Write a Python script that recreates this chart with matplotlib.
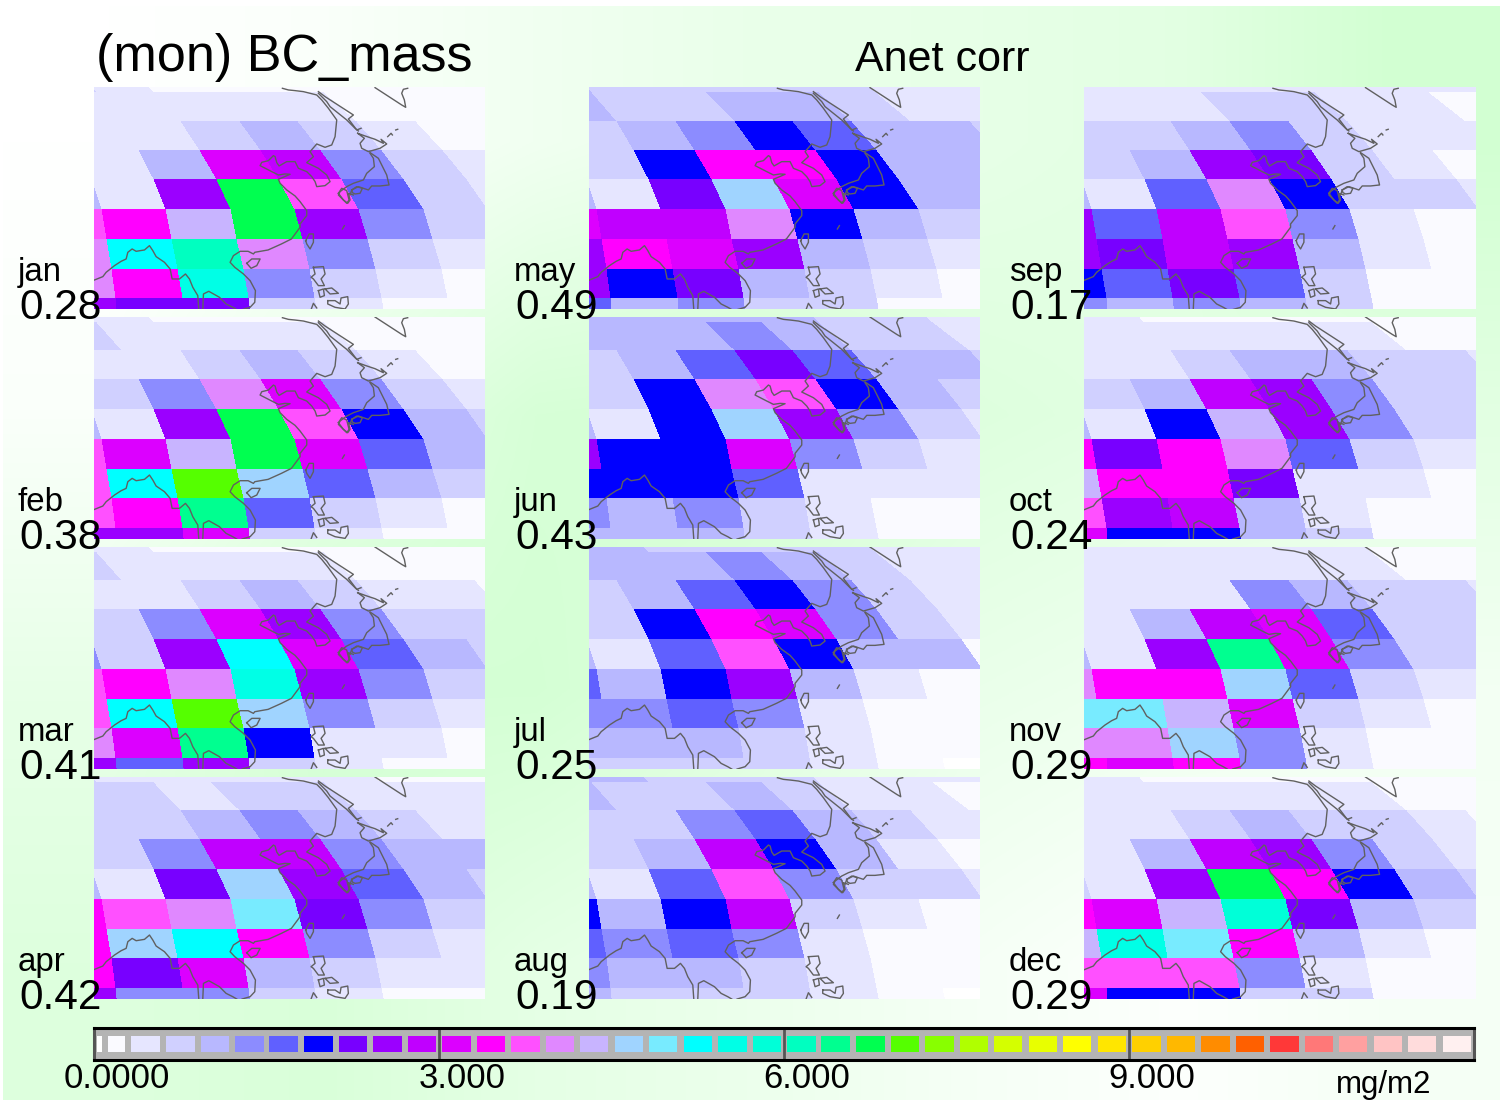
import numpy as np
import matplotlib
matplotlib.use("Agg")
import matplotlib.pyplot as plt
from matplotlib.colors import ListedColormap, BoundaryNorm

W, H = 1501, 1100
plt.rcParams['font.family'] = ['Liberation Sans', 'DejaVu Sans']

MONTHS = ["jan", "feb", "mar", "apr", "may", "jun", "jul", "aug", "sep", "oct", "nov", "dec"]
CORR = ["0.28", "0.38", "0.41", "0.42", "0.49", "0.43", "0.25", "0.19", "0.17", "0.24", "0.29", "0.29"]

# colour bar
BAR_COLORS = ["#FFFFFF", "#FAFAFF", "#E6E6FF", "#D0D0FF", "#B8B8FF", "#8C8CFF", "#6060FF", "#0000FF",
              "#7800FF", "#9B00FF", "#C000FF", "#DC00FF", "#FF00FF", "#FF50FF", "#E088FF", "#C8B4FF",
              "#A0D4FF", "#78EBFF", "#00FFFF", "#00FFE6", "#00FFD8", "#00FFC0", "#00FF90", "#00FF50",
              "#55FF00", "#88FF00", "#B0FF00", "#D4FF00", "#E8FF00", "#FFFF00", "#FFE600", "#FFD000",
              "#FFB800", "#FF8C00", "#FF6000", "#FF3838", "#FF7878", "#FFA0A0", "#FFC4C4", "#FFDCDC",
              "#FFF0F0"]
BAR_LEVELS = [0.0, 0.1] + [round(0.3 * i, 1) for i in range(1, 41)]
BAR_TICKS = [0, 3, 6, 9]
BAR_LABELS = ["0.0000", "3.000", "6.000", "9.000"]

# BC mass colour level of every model cell, rows north to south, columns west to east
jan = [[2, 2, 1, 0, 0, 0, 0, 0, 0], [1, 1, 1, 1, 1, 1, 0, 0, 0], [1, 1, 1, 2, 3, 2, 1, 0, 0],
       [1, 1, 3, 10, 9, 4, 2, 1, 1], [3, 1, 8, 22, 12, 5, 2, 1, 1], [12, 11, 14, 22, 8, 4, 2, 1, 1],
       [13, 17, 20, 13, 4, 2, 1, 1, 1], [13, 11, 18, 4, 2, 1, 0, 0, 0], [8, 7, 7, 2, 1, 0, 0, 0, 0]]
feb = [[1, 1, 1, 0, 0, 0, 0, 0, 0], [2, 2, 1, 1, 1, 1, 0, 0, 0], [1, 1, 1, 2, 3, 2, 1, 0, 0],
       [2, 2, 4, 13, 10, 4, 2, 1, 1], [3, 1, 8, 22, 12, 6, 3, 2, 2], [12, 10, 14, 22, 10, 5, 3, 2, 2],
       [12, 17, 23, 15, 5, 3, 2, 1, 1], [12, 11, 21, 5, 2, 1, 0, 0, 0], [8, 8, 10, 2, 1, 0, 0, 0, 0]]
mar = [[1, 1, 1, 0, 0, 0, 0, 0, 0], [2, 2, 1, 1, 1, 1, 0, 0, 0], [1, 1, 1, 2, 3, 2, 1, 1, 0],
       [2, 2, 4, 10, 8, 4, 2, 2, 2], [4, 2, 8, 17, 10, 5, 3, 2, 2], [12, 11, 13, 18, 8, 4, 2, 1, 1],
       [12, 17, 23, 15, 4, 2, 1, 1, 1], [13, 10, 21, 6, 1, 1, 0, 0, 0], [8, 5, 8, 2, 1, 0, 0, 0, 0]]
apr = [[2, 2, 1, 1, 1, 1, 1, 0, 0], [2, 2, 2, 1, 2, 2, 1, 1, 1], [2, 2, 2, 3, 4, 3, 2, 1, 1],
       [2, 2, 4, 9, 9, 4, 3, 3, 3], [3, 1, 7, 15, 8, 5, 3, 2, 2], [11, 12, 13, 16, 7, 4, 2, 1, 1],
       [11, 15, 17, 11, 4, 2, 1, 1, 1], [11, 7, 10, 3, 2, 1, 1, 0, 0], [8, 4, 4, 2, 1, 0, 0, 0, 0]]
may = [[3, 3, 2, 2, 2, 2, 2, 1, 1], [3, 3, 2, 2, 3, 3, 2, 1, 1], [2, 2, 3, 4, 6, 5, 3, 3, 2],
       [2, 2, 6, 11, 11, 6, 3, 3, 3], [3, 1, 7, 15, 10, 6, 3, 3, 3], [10, 9, 9, 13, 6, 3, 2, 2, 2],
       [8, 11, 10, 8, 3, 2, 1, 1, 1], [8, 6, 7, 3, 2, 1, 0, 0, 0], [5, 3, 4, 2, 2, 0, 0, 0, 0]]
jun = [[3, 3, 3, 3, 3, 3, 2, 2, 1], [3, 3, 3, 3, 4, 3, 2, 2, 1], [2, 2, 3, 5, 7, 5, 3, 3, 2],
       [2, 2, 6, 13, 12, 6, 3, 2, 2], [3, 1, 6, 15, 8, 4, 2, 1, 1], [8, 6, 6, 10, 4, 2, 1, 1, 1],
       [6, 6, 6, 5, 1, 1, 1, 1, 1], [4, 3, 4, 2, 1, 0, 0, 0, 0], [3, 3, 3, 2, 1, 0, 0, 0, 0]]
jul = [[3, 3, 3, 2, 2, 2, 2, 1, 1], [3, 3, 3, 3, 4, 3, 2, 1, 1], [2, 2, 3, 5, 6, 4, 2, 1, 1],
       [2, 2, 6, 11, 10, 4, 2, 1, 1], [3, 1, 5, 12, 6, 3, 3, 0, 0], [5, 3, 6, 8, 3, 1, 0, 0, 0],
       [4, 4, 5, 4, 1, 0, 0, 0, 0], [3, 3, 3, 2, 1, 0, 0, 0, 0], [2, 2, 2, 2, 1, 0, -1, -1, -1]]
aug = [[3, 3, 3, 2, 2, 2, 1, 1, 1], [3, 3, 2, 2, 3, 2, 1, 1, 0], [2, 2, 2, 4, 5, 3, 2, 1, 1],
       [2, 2, 3, 9, 6, 3, 1, 0, 0], [3, 1, 5, 12, 4, 2, 2, 1, 1], [6, 3, 6, 9, 2, 1, 0, 0, 0],
       [5, 4, 5, 4, 1, 0, 0, 0, 0], [4, 3, 3, 2, 1, 0, 0, 0, 0], [3, 2, 2, 2, 1, 0, -1, -1, -1]]
sep = [[2, 1, 1, 1, 1, 1, 1, 1, 1], [1, 1, 1, 1, 2, 2, 1, 1, 0], [2, 2, 2, 3, 4, 2, 1, 1, 1],
       [2, 2, 3, 8, 7, 2, 1, 0, 0], [3, 1, 5, 13, 6, 2, 2, 1, 1], [8, 5, 9, 12, 4, 1, 0, 0, 0],
       [8, 7, 9, 8, 3, 1, 0, 0, 0], [6, 5, 7, 5, 2, 0, 0, 0, 0], [4, 3, 4, 3, 2, 0, 0, 0, 0]]
oct_ = [[1, 1, 1, 0, 0, 0, 0, 0, 0], [1, 1, 1, 1, 1, 1, 1, 0, 0], [1, 1, 1, 2, 3, 3, 2, 2, 1],
        [2, 2, 3, 9, 8, 4, 2, 2, 2], [3, 1, 6, 14, 8, 4, 2, 2, 2], [11, 7, 11, 13, 5, 2, 1, 1, 1],
        [14, 11, 11, 7, 1, 1, 0, 0, 0], [12, 8, 9, 3, 1, 0, 0, 0, 0], [10, 6, 6, 3, 2, 0, 0, 0, 0]]
nov = [[1, 1, 1, 1, 1, 1, 1, 0, 0], [1, 1, 1, 1, 1, 1, 1, 0, 0], [1, 1, 1, 1, 4, 3, 2, 2, 1],
       [1, 1, 3, 9, 10, 5, 2, 2, 2], [3, 1, 8, 21, 10, 4, 2, 2, 2], [13, 11, 11, 15, 5, 2, 1, 1, 1],
       [16, 16, 14, 10, 2, 1, 0, 0, 0], [13, 13, 15, 4, 1, 0, 0, 0, 0], [11, 10, 11, 4, 1, 0, 0, 0, 0]]
dec = [[1, 1, 1, 0, 0, 0, 0, 0, 0], [1, 1, 1, 1, 1, 1, 1, 0, 0], [1, 1, 1, 2, 3, 2, 2, 1, 0],
       [1, 1, 3, 9, 8, 4, 2, 1, 1], [2, 1, 8, 22, 11, 6, 3, 2, 2], [11, 10, 14, 19, 7, 3, 2, 1, 1],
       [14, 18, 16, 11, 3, 1, 0, 0, 0], [12, 12, 12, 4, 1, 0, 0, 0, 0], [10, 6, 6, 2, 2, 0, 0, 0, 0]]
ALL_MONTHS = [jan, feb, mar, apr, may, jun, jul, aug, sep, oct_, nov, dec]

# model grid, curved columns (panel units, 3 per image pixel)
ROW_EDGES = [-68, 20, 105, 193, 281, 371, 461, 549, 638, 730]
COL_START = [-213, -150.7, -81.7, -35, 4, 35, 50, 65, 78, 86]
COL_STEP = [165, 170.7, 176.7, 182.2, 187.6, 193.3, 196, 198, 199.4, 201.8]

# coastlines, same units
COASTS = [
    [(8, 585), (38, 573), (48, 560), (73, 540), (93, 527), (108, 520), (113, 500), (126, 490), (138, 497),
     (163, 493), (178, 480), (188, 495), (198, 513), (223, 530), (240, 550), (246, 580), (268, 580), (286, 565),
     (298, 580), (308, 605), (323, 630), (326, 672)],
    [(338, 672), (340, 625), (356, 617), (388, 635), (408, 655), (428, 665), (440, 672)],
    [(456, 672), (480, 665), (494, 650), (496, 615), (480, 585), (460, 565), (434, 545), (420, 530), (430, 510),
     (450, 497), (474, 497), (490, 505), (494, 500), (534, 493), (574, 475), (604, 460), (630, 425), (630, 415),
     (650, 390), (650, 375), (630, 348), (615, 331), (590, 313), (570, 293), (565, 281), (600, 266), (585, 265),
     (565, 268), (545, 258), (510, 240), (515, 230), (535, 225), (550, 210), (555, 213), (560, 231), (567, 241),
     (590, 228), (615, 228), (625, 248), (650, 258), (665, 273), (675, 288), (680, 303), (705, 300), (720, 288),
     (710, 268), (685, 248), (650, 231), (670, 213), (660, 198), (680, 175), (705, 185), (725, 178), (735, 153),
     (740, 103), (715, 68), (695, 43), (680, 28), (640, 18), (615, 15), (595, 13), (577, 8)],
    [(685, 18), (705, 33), (790, 88), (775, 100), (800, 133), (813, 128)],
    [(685, 23), (710, 48), (720, 63), (770, 103), (780, 113), (795, 128), (805, 136)],
    [(803, 143), (825, 151), (855, 161), (880, 173), (873, 161), (890, 175), (870, 188), (835, 198), (815, 188),
     (810, 173), (823, 158), (803, 143)],
    [(893, 153), (903, 143), (907, 148)],
    [(917, 133), (923, 131)],
    [(840, 203), (850, 218), (853, 243), (830, 263), (820, 283), (790, 293), (770, 303), (750, 318), (745, 328),
     (760, 343), (773, 353), (780, 343), (775, 323), (790, 328)],
    [(840, 201), (865, 218), (880, 248), (890, 268), (897, 298), (870, 301), (845, 301), (835, 313), (805, 303),
     (785, 313), (780, 328)],
    [(785, 313), (800, 303), (817, 308), (810, 323), (795, 325), (787, 321), (785, 313)],
    [(745, 323), (755, 308), (770, 315), (777, 343), (770, 353), (760, 343), (745, 323)],
    [(855, 6), (935, 58), (947, 65), (943, 43), (935, 23), (940, 11), (953, 8)],
    [(470, 533), (485, 520), (510, 520), (500, 540), (483, 548), (470, 533)],
    [(647, 465), (657, 445), (670, 445), (670, 470), (660, 490), (650, 475), (647, 465)],
    [(757, 430), (763, 420)],
    [(670, 545), (700, 543), (705, 565), (693, 580), (703, 600), (685, 600), (670, 580), (663, 575), (675, 565),
     (670, 545)],
    [(685, 615), (700, 610), (703, 630), (690, 635), (685, 615)],
    [(705, 610), (725, 607), (745, 623), (720, 625), (705, 610)],
    [(713, 645), (735, 645), (750, 655), (753, 637), (773, 633), (775, 655), (765, 670), (735, 665), (713, 655),
     (713, 645)],
    [(663, 672), (670, 653), (680, 667)],
]

# background green strength, sampled on a coarse grid of the page
BG_X = [0, 250, 500, 750, 1000, 1250, 1500]
BG_Y = [0, 370, 740, 1100]
BG_STRENGTH = [[0.0, 0.1, 0.3, 0.45, 0.5, 0.6, 0.95],
               [0.1, 0.5, 0.85, 0.9, 0.7, 0.6, 0.6],
               [0.5, 0.9, 0.9, 0.7, 0.45, 0.35, 0.25],
               [0.7, 0.8, 0.55, 0.4, 0.2, 0.05, 0.2]]

PANEL_LEFT = [93.5, 588.5, 1084]
PANEL_TOP = [87.3, 316.7, 546.7, 776.7]
PANEL_W = 391.5
PANEL_H = 222
LABEL_X = [18, 514, 1009]


def px_axes(fig, x, y, w, h):
    return fig.add_axes([x / W, 1 - (y + h) / H, w / W, h / H])


def px_text(fig, x, y, s, size, **kw):
    fig.text(x / W, 1 - y / H, s, fontsize=size, color="black", va="baseline", **kw)


fig = plt.figure(figsize=(W / 100, H / 100), dpi=100, facecolor="white")

# page background
ax_bg = px_axes(fig, 3, 6, W - 4, H - 6)
strength = np.array(BG_STRENGTH)
bg = np.stack([1 - 0.185 * strength, np.ones_like(strength), 1 - 0.185 * strength], axis=2)
ax_bg.imshow(bg, extent=(BG_X[0], BG_X[-1], BG_Y[-1], BG_Y[0]), aspect="auto", interpolation="bilinear")
ax_bg.axis("off")

cmap = ListedColormap(BAR_COLORS)
norm = BoundaryNorm(BAR_LEVELS, cmap.N)

k = np.arange(-1, 9)
X = np.outer(COL_STEP, k) + np.array(COL_START)[:, None]
Y = np.repeat(np.array(ROW_EDGES, dtype=float)[:, None], len(k), axis=1)

for i, levels in enumerate(ALL_MONTHS):
    col, row = i // 4, i % 4
    ax = px_axes(fig, PANEL_LEFT[col], PANEL_TOP[row], PANEL_W, PANEL_H)
    lev = np.array(levels, dtype=float)
    values = np.where(lev < 0, 0.05, (lev + 0.5) * 0.3)
    ax.pcolormesh(X, Y, values, cmap=cmap, norm=norm, shading="flat", linewidth=0, antialiased=False)
    for line in COASTS:
        xs, ys = zip(*line)
        ax.plot(xs, ys, color="#606060", lw=1.0)
    ax.set_xlim(10, 1185)
    ax.set_ylim(671, 5)
    ax.axis("off")
    # month name and correlation
    base = PANEL_TOP[row] + 194
    px_text(fig, LABEL_X[col], base, MONTHS[i], 23.8)
    px_text(fig, LABEL_X[col] + 1, base + 38, CORR[i], 30.5)

px_text(fig, 96, 71, "(mon) BC_mass", 37.5)
px_text(fig, 855, 71, "Anet corr", 31)

# colour bar
ax_bar = px_axes(fig, 94, 1028, 1380, 32)
ax_bar.set_facecolor("#B4B4B4")
pad = 3 * 12 / 1380
for lo, hi, c in zip(BAR_LEVELS[:-1], BAR_LEVELS[1:], BAR_COLORS):
    ax_bar.bar((lo + hi) / 2, 16 / 32, width=hi - lo - 2 * pad, bottom=8 / 32, color=c, linewidth=0)
for t in BAR_TICKS[1:]:
    ax_bar.axvline(t, color="#555555", lw=2)
ax_bar.set_xlim(0, 12)
ax_bar.set_ylim(1, 0)
ax_bar.set_xticks([])
ax_bar.set_yticks([])
for name, sp in ax_bar.spines.items():
    sp.set_linewidth(2.2)
    sp.set_color("black" if name in ("top", "bottom") else "#555555")

for t, lab in zip(BAR_TICKS, BAR_LABELS):
    fig.text((94 + t * 115 + 23) / W, 1 - 1088 / H, lab, fontsize=25, ha="center", va="baseline", color="black")
px_text(fig, 1336, 1093, "mg/m2", 22.5)

fig.savefig("out.png", dpi=100)
